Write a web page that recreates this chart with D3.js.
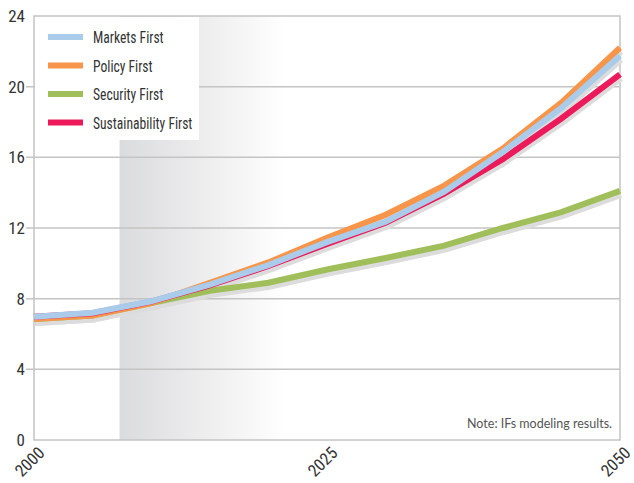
<!DOCTYPE html>
<html lang="en">
<head>
  <meta charset="UTF-8" />
  <title>IFs scenarios</title>
  <script src="https://cdn.jsdelivr.net/npm/d3@7"></script>
  <style>
    body { margin: 0; background: #fff; }
    text { font-family: "Liberation Sans Narrow", "Roboto Condensed", "Liberation Sans", sans-serif; }
  </style>
</head>
<body>
  <svg id="svg"></svg>
<script>
  const years = [2000, 2005, 2010, 2015, 2020, 2025, 2030, 2035, 2040, 2045, 2050];
  const marketsFirst = [6.97, 7.2, 7.85, 8.8, 9.9, 11.2, 12.35, 14.05, 16.3, 18.8, 21.75];
  const policyFirst = [6.85, 7.05, 7.75, 8.9, 10.05, 11.45, 12.75, 14.4, 16.5, 19.1, 22.2];
  const securityFirst = [6.85, 7.05, 7.75, 8.45, 8.9, 9.65, 10.3, 11.0, 12.0, 12.9, 14.1];
  const sustainabilityFirst = [6.97, 7.18, 7.83, 8.75, 9.85, 11.1, 12.3, 13.95, 15.9, 18.2, 20.7];
  const yTicks = [0, 4, 8, 12, 16, 20, 24];
  const xTicks = [2000, 2025, 2050];

  // drawing order: bottom to top
  const series = [
    { name: "Security First", values: securityFirst, color: "#a0bf5a" },
    { name: "Policy First", values: policyFirst, color: "#f7964a" },
    { name: "Sustainability First", values: sustainabilityFirst, color: "#ec1a5b" },
    { name: "Markets First", values: marketsFirst, color: "#aacbea" },
  ];
  const legendOrder = ["Markets First", "Policy First", "Security First", "Sustainability First"];

  const width = 634;
  const height = 483;
  const margin = { top: 16, right: 14, bottom: 43, left: 34 };
  const innerWidth = width - margin.left - margin.right;
  const innerHeight = height - margin.top - margin.bottom;

  const svg = d3.select("#svg").attr("width", width).attr("height", height);

  const defs = svg.append("defs");
  const grad = defs.append("linearGradient").attr("id", "shade");
  grad.append("stop").attr("offset", "0%").attr("stop-color", "#dadbdd");
  grad.append("stop").attr("offset", "50%").attr("stop-color", "#ededee");
  grad.append("stop").attr("offset", "100%").attr("stop-color", "#ffffff");

  const g = svg.append("g")
    .attr("transform", `translate(${margin.left}, ${margin.top})`);

  const xScale = d3.scaleLinear().domain([2000, 2050]).range([0, innerWidth]);
  const yScale = d3.scaleLinear().domain([0, 24]).range([innerHeight, 0]);

  // shaded band
  g.append("rect")
    .attr("x", xScale(2007.3))
    .attr("y", 0)
    .attr("width", xScale(2021.5) - xScale(2007.3))
    .attr("height", innerHeight)
    .attr("fill", "url(#shade)");

  // grid
  g.append("g")
    .selectAll("line")
    .data(yTicks.filter((d) => d > 0 && d < 24))
    .join("line")
    .attr("x1", -8)
    .attr("x2", innerWidth)
    .attr("y1", (d) => yScale(d))
    .attr("y2", (d) => yScale(d))
    .attr("stroke", "#c4c4c4")
    .attr("stroke-width", 1.5);

  // frame
  g.append("rect")
    .attr("width", innerWidth)
    .attr("height", innerHeight)
    .attr("fill", "none")
    .attr("stroke", "#c4c4c4")
    .attr("stroke-width", 1.5);

  // y tick labels
  const yAxis = d3.axisLeft(yScale).tickValues(yTicks).tickSize(0).tickPadding(9);
  g.append("g").call(yAxis)
    .call((a) => a.select(".domain").remove())
    .selectAll("text")
    .attr("font-size", 17)
    .attr("fill", "#333");

  // x tick labels, rotated
  const xAxis = d3.axisBottom(xScale).tickValues(xTicks).tickSize(0).tickFormat(d3.format("d"));
  g.append("g")
    .attr("transform", `translate(0, ${innerHeight})`)
    .call(xAxis)
    .call((a) => a.select(".domain").remove())
    .selectAll("text")
    .attr("font-size", 17)
    .attr("fill", "#333")
    .attr("text-anchor", "end")
    .attr("dy", "0")
    .attr("transform", "translate(9, 12) rotate(-45)");

  const line = d3.line()
    .x((d, i) => xScale(years[i]))
    .y((d) => yScale(d));

  // drop shadows
  g.append("g")
    .attr("transform", "translate(1, 4)")
    .selectAll("path")
    .data(series)
    .join("path")
    .attr("d", (d) => line(d.values))
    .attr("fill", "none")
    .attr("stroke", "#dcdcdc")
    .attr("stroke-width", 6);

  g.append("g")
    .selectAll("path")
    .data(series)
    .join("path")
    .attr("d", (d) => line(d.values))
    .attr("fill", "none")
    .attr("stroke", (d) => d.color)
    .attr("stroke-width", 6);

  // legend
  const legend = g.append("g").attr("transform", "translate(1, 1)");
  legend.append("rect")
    .attr("width", 164)
    .attr("height", 123)
    .attr("fill", "#fff");
  legendOrder.forEach((name, i) => {
    const s = series.find((d) => d.name === name);
    const y = 20 + i * 28.5;
    legend.append("line")
      .attr("x1", 13).attr("x2", 48)
      .attr("y1", y).attr("y2", y)
      .attr("stroke", s.color)
      .attr("stroke-width", 6);
    legend.append("text")
      .attr("transform", `translate(58, ${y + 6}) scale(0.8, 1)`)
      .attr("font-size", 17)
      .attr("fill", "#333")
      .text(name);
  });

  g.append("text")
    .attr("x", innerWidth - 8)
    .attr("y", innerHeight - 12)
    .attr("text-anchor", "end")
    .attr("font-size", 12.5)
    .attr("fill", "#555")
    .style("font-family", "Lato, 'DejaVu Sans', sans-serif")
    .text("Note: IFs modeling results.");
</script>
</body>
</html>
